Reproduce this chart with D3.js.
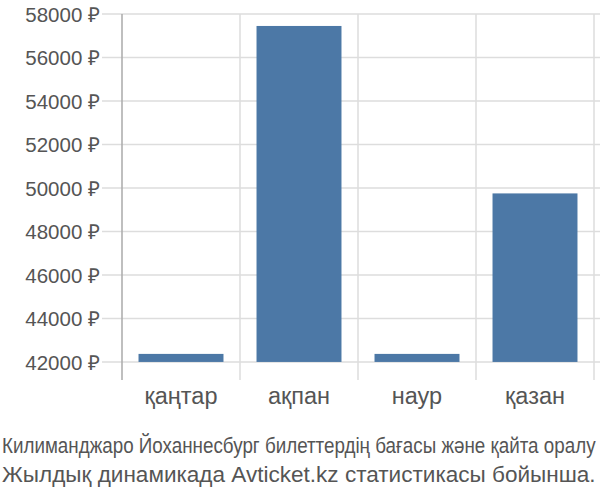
<!DOCTYPE html>
<html>
<head>
<meta charset="utf-8">
<script src="https://cdn.jsdelivr.net/npm/d3@7"></script>
<style>
body{margin:0;background:#fff;}
text{font-family:"Liberation Sans",Arial,sans-serif;}
</style>
</head>
<body>
<div class="box"></div>
<script>
const months=['қаңтар','ақпан','наур','қазан'];
const prices=[42370,57450,42370,49750];
const yTicks=[42000,44000,46000,48000,50000,52000,54000,56000,58000];
const captionLines=['Килиманджаро Йоханнесбург билеттердің бағасы және қайта оралу','Жылдық динамикада Avticket.kz статистикасы бойынша.'];

const svg=d3.select('.box').append('svg').attr('width',600).attr('height',500).style('background','white');
const margin={top:14,left:122,right:6,bottom:120};
const graphW=600-margin.left-margin.right;
const graphH=500-margin.top-margin.bottom;
const g=svg.append('g').attr('transform',`translate(${margin.left},${margin.top})`);

const x=d3.scaleBand().domain(months).range([0,graphW]).paddingInner(0.28).paddingOuter(0.14);
const xCells=d3.scaleBand().domain(months).range([0,graphW]);
const y=d3.scaleLinear().domain([41170,58000]).range([graphH,0]);

// grid lines
g.selectAll('.hgrid').data(yTicks).enter().append('line')
  .attr('x1',-20).attr('x2',graphW+margin.right)
  .attr('y1',d=>y(d)).attr('y2',d=>y(d))
  .attr('stroke','#dddddd').attr('stroke-width',1.5);
g.selectAll('.vgrid').data(months).enter().append('line')
  .attr('x1',d=>xCells(d)+xCells.bandwidth()).attr('x2',d=>xCells(d)+xCells.bandwidth())
  .attr('y1',0).attr('y2',graphH)
  .attr('stroke','#dddddd').attr('stroke-width',1.5);

// bars
g.selectAll('rect').data(prices).enter().append('rect')
  .attr('x',(d,i)=>x(months[i]))
  .attr('width',x.bandwidth())
  .attr('y',d=>y(d))
  .attr('height',d=>y(42000)-y(d))
  .attr('fill','#4c78a6');

// y axis
const axeY=d3.axisLeft(y).tickValues(yTicks).tickSize(20).tickPadding(2).tickFormat(d=>d+' ₽');
const gY=g.append('g').call(axeY);
gY.select('.domain').remove();
gY.selectAll('.tick line').remove();
gY.selectAll('text').attr('font-size',20.5).attr('fill','#555').attr('dy','0.35em');
g.append('line').attr('x1',0).attr('x2',0).attr('y1',0).attr('y2',graphH)
  .attr('stroke','#aaaaaa').attr('stroke-width',1.5);

// x axis labels
const axeX=d3.axisBottom(xCells).tickSize(0).tickPadding(0);
const gX=g.append('g').attr('transform',`translate(0,${graphH})`).call(axeX);
gX.select('.domain').remove();
gX.selectAll('text').attr('font-size',23.5).attr('fill','#555').attr('dy',null).attr('y',24);

// caption: fit each line to the width of the picture
svg.selectAll('.cap').data(captionLines).enter().append('text')
  .attr('font-size',22).attr('fill','#555')
  .text(d=>d)
  .each(function(d,i){
    const w=this.getComputedTextLength();
    const k=594/w;
    d3.select(this).attr('transform',`translate(2,${453+i*29}) scale(${k},1)`);
  });
</script>
</body>
</html>
